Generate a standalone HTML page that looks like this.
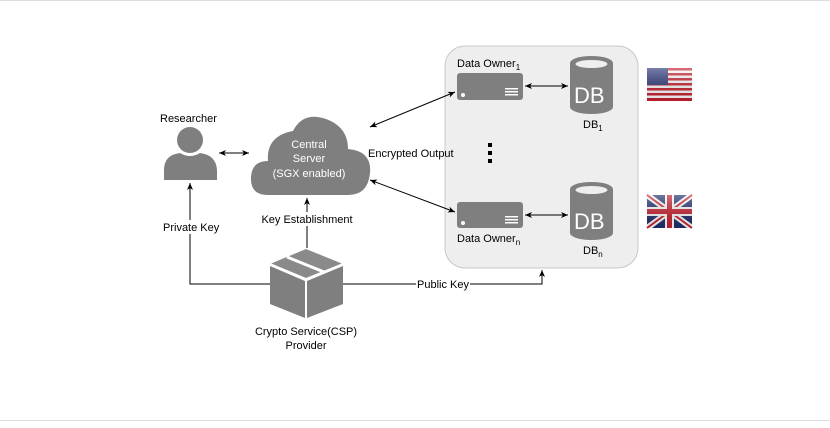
<!DOCTYPE html>
<html><head><style>
body{margin:0;background:#fff;}
svg{display:block;font-family:"Liberation Sans",sans-serif;}
</style></head><body>
<svg width="830" height="428" viewBox="0 0 830 428">
<defs>
<marker id="a" markerWidth="8" markerHeight="8" refX="7" refY="4" orient="auto" markerUnits="userSpaceOnUse"><path d="M0,1 L7,4 L0,7 L2,4z" fill="#000"/></marker>
<marker id="s" markerWidth="8" markerHeight="8" refX="1" refY="4" orient="auto" markerUnits="userSpaceOnUse"><path d="M8,1 L1,4 L8,7 L6,4z" fill="#000"/></marker>
<linearGradient id="fl" x1="0" y1="0" x2="0" y2="1"><stop offset="0" stop-color="#fff" stop-opacity=".35"/><stop offset="1" stop-color="#000" stop-opacity=".1"/></linearGradient>
</defs>
<line x1="0" y1="0.5" x2="830" y2="0.5" stroke="#ddd"/>
<line x1="0" y1="420.5" x2="830" y2="420.5" stroke="#ddd"/>
<rect x="445" y="46" width="193" height="222" rx="20" fill="#eeeeee" stroke="#c8c8c8"/>
<!-- servers -->
<g fill="#7f7f7f"><rect x="457" y="73" width="66" height="27" rx="3"/><rect x="457" y="202" width="66" height="26" rx="3"/></g>
<g fill="#fff"><circle cx="463" cy="95" r="2"/><circle cx="463" cy="223" r="2"/>
<rect x="505" y="88" width="13" height="1.5"/><rect x="505" y="91" width="13" height="1.5"/><rect x="505" y="94" width="13" height="1.5"/>
<rect x="505" y="216" width="13" height="1.5"/><rect x="505" y="219" width="13" height="1.5"/><rect x="505" y="222" width="13" height="1.5"/></g>
<text x="457" y="67" font-size="11">Data Owner<tspan font-size="8" dy="3">1</tspan></text>
<text x="457" y="242" font-size="11">Data Owner<tspan font-size="8" dy="3">n</tspan></text>
<!-- DBs -->
<g fill="#7f7f7f"><path d="M570,63 a21.5,7 0 0 1 43,0 v44 a21.5,7 0 0 1 -43,0z"/><path d="M570,189 a21.5,7 0 0 1 43,0 v44 a21.5,7 0 0 1 -43,0z"/></g>
<g fill="#eee"><ellipse cx="591.5" cy="64" rx="16" ry="4"/><ellipse cx="591.5" cy="190" rx="16" ry="4"/></g>
<g fill="#fff" font-size="22"><text x="574" y="103">DB</text><text x="574" y="229">DB</text></g>
<text x="583" y="128" font-size="11">DB<tspan font-size="8" dy="3">1</tspan></text>
<text x="583" y="254" font-size="11">DB<tspan font-size="8" dy="3">n</tspan></text>
<!-- dots -->
<g fill="#000"><rect x="488" y="143" width="4" height="4"/><rect x="488" y="151" width="4" height="4"/><rect x="488" y="159" width="4" height="4"/></g>
<!-- US flag -->
<g>
<rect x="647" y="68" width="45" height="33" fill="#fff"/>
<g fill="#c8202f"><rect x="647" y="68" width="45" height="2.5"/><rect x="647" y="73" width="45" height="2.5"/><rect x="647" y="78" width="45" height="2.5"/><rect x="647" y="83" width="45" height="2.5"/><rect x="647" y="88" width="45" height="2.5"/><rect x="647" y="93" width="45" height="2.5"/><rect x="647" y="98" width="45" height="3"/></g>
<rect x="647" y="68" width="21" height="17" fill="#2f3a7a"/>
<rect x="647" y="68" width="45" height="33" fill="url(#fl)"/>
</g>
<!-- UK flag -->
<g>
<rect x="647" y="195" width="45" height="33" fill="#1f2f6e"/>
<path d="M647,195 L692,228 M692,195 L647,228" stroke="#fff" stroke-width="6"/>
<path d="M647,195 L692,228 M692,195 L647,228" stroke="#c8202f" stroke-width="2"/>
<rect x="665" y="195" width="9" height="33" fill="#fff"/><rect x="647" y="207" width="45" height="9" fill="#fff"/>
<rect x="667" y="195" width="5" height="33" fill="#c8202f"/><rect x="647" y="209" width="45" height="5" fill="#c8202f"/>
<rect x="647" y="195" width="45" height="33" fill="url(#fl)"/>
</g>
<!-- researcher -->
<circle cx="190" cy="140" r="13" fill="#7f7f7f"/>
<path d="M164,180 v-10 q0,-15 16,-17 q10,6 20,0 q16,2 17,17 v10z" fill="#7f7f7f"/>
<text x="160" y="122" font-size="11">Researcher</text>
<!-- cloud -->
<path d="M268,195 q-18,0 -17,-18 q1,-16 17,-16 q-2,-25 25,-30 q10,-20 33,-12 q22,8 22,30 q24,2 22,24 q-2,22 -22,22z" fill="#7f7f7f"/>
<g fill="#fff" font-size="11" text-anchor="middle"><text x="309" y="148">Central</text><text x="309" y="162">Server</text><text x="309" y="177">(SGX enabled)</text></g>
<!-- box -->
<path d="M270,264 L306,249 L343,264 L306,279z" fill="#8a8a8a"/>
<path d="M270,266 L305,281 L305,318 L270,304z" fill="#7f7f7f"/>
<path d="M307,281 L343,266 L343,304 L307,318z" fill="#7f7f7f"/>
<path d="M287,257 L324,272" stroke="#fff" stroke-width="3"/>
<path d="M270,264 L306,279 L343,264" stroke="#fff" stroke-width="2" fill="none"/>
<g font-size="11" text-anchor="middle"><text x="306" y="335">Crypto Service(CSP)</text><text x="306" y="349">Provider</text></g>
<!-- connectors -->
<g stroke="#000" fill="none" stroke-width="1">
<line x1="219" y1="153" x2="249" y2="153" marker-start="url(#s)" marker-end="url(#a)"/>
<line x1="370" y1="127" x2="455" y2="92" marker-start="url(#s)" marker-end="url(#a)"/>
<line x1="370" y1="180" x2="455" y2="212" marker-start="url(#s)" marker-end="url(#a)"/>
<line x1="525" y1="86" x2="568" y2="86" marker-start="url(#s)" marker-end="url(#a)"/>
<line x1="525" y1="215" x2="568" y2="215" marker-start="url(#s)" marker-end="url(#a)"/>
<line x1="307" y1="248" x2="307" y2="198" marker-end="url(#a)"/>
<polyline points="270,284 190,284 190,183" marker-end="url(#a)"/>
<polyline points="343,284 542,284 542,270" marker-end="url(#a)"/>
</g>
<g font-size="11">
<rect x="258" y="212" width="98" height="14" fill="#fff"/>
<text x="307" y="223" text-anchor="middle">Key Establishment</text>
<rect x="160" y="220" width="64" height="14" fill="#fff"/>
<text x="163" y="231">Private Key</text>
<text x="368" y="157">Encrypted Output</text>
<rect x="416" y="278" width="54" height="13" fill="#fff"/>
<text x="417" y="288">Public Key</text>
</g>
</svg>
</body></html>
